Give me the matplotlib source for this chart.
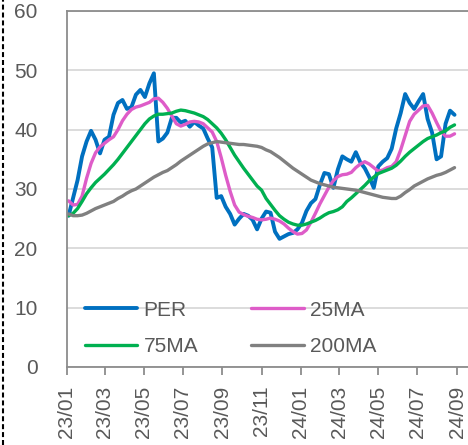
import pandas as pd
import matplotlib
matplotlib.use('Agg')
from matplotlib import pyplot as plt
import matplotlib.dates as mdates
from matplotlib.lines import Line2D

# 周度数据：2023/01/04 起每7天一个点
dates = pd.date_range('2023-01-04', periods=87, freq='7D')

per = [25.5, 28.5, 31.5, 35.5, 38.0, 39.8, 38.3, 36.0, 38.3, 38.8,
       42.5, 44.5, 45.0, 43.5, 43.8, 45.9, 46.7, 45.5, 47.8, 49.5,
       38.0, 38.5, 39.5, 42.0, 42.0, 41.2, 41.5, 40.5, 41.3, 40.7,
       40.2, 38.5, 37.0, 28.5, 28.8, 27.0, 25.8, 24.0, 25.0, 25.8,
       25.5, 24.8, 23.2, 25.0, 26.2, 26.0, 22.8, 21.6, 22.0, 22.4,
       22.6, 23.2, 24.3, 26.3, 27.6, 28.3, 30.7, 32.7, 32.5, 30.2,
       33.3, 35.5, 35.0, 34.6, 36.2, 34.5, 33.5, 32.0, 30.2, 33.8,
       34.6, 35.2, 36.8, 40.2, 42.8, 46.0, 44.5, 43.5, 44.8, 46.0,
       41.8, 39.5, 35.0, 35.5, 41.0, 43.2, 42.5]

ma25 = [28.0, 27.3, 27.4, 28.8, 31.8, 34.3, 36.1, 37.1, 37.7, 38.3,
        38.8, 40.0, 41.5, 42.6, 43.4, 43.8, 44.0, 44.3, 44.6, 45.2,
        45.3, 44.6, 43.6, 42.3, 41.0, 40.6, 40.9, 41.3, 41.4, 41.3,
        41.0, 40.3, 39.6, 38.0, 35.3, 32.3, 29.6, 27.3, 26.1, 25.7,
        25.4, 25.2, 24.9, 24.8, 24.9, 25.1, 24.9, 24.6, 24.1, 23.4,
        22.8, 22.4, 22.5, 23.1, 24.4, 25.9, 27.5, 28.9, 30.3, 31.4,
        32.1, 32.4, 32.5, 32.8, 33.6, 34.2, 34.6, 34.2, 33.6, 33.0,
        33.2, 33.6, 33.8, 34.6, 36.6, 39.0, 41.4, 42.6, 43.3, 44.0,
        44.1, 42.8, 41.2, 39.7, 38.9, 38.9, 39.3]

ma75 = [25.5, 25.9, 26.7, 27.9, 29.2, 30.2, 31.1, 31.8, 32.5, 33.3,
        34.1, 35.0, 36.0, 37.0, 38.0, 39.0, 40.0, 41.0, 41.8, 42.3,
        42.6, 42.6, 42.7, 42.8, 43.1, 43.3, 43.2, 43.0, 42.8, 42.5,
        42.2, 41.7, 41.0, 40.3, 39.4, 38.3, 37.0, 35.7, 34.6, 33.5,
        32.5, 31.5, 30.5, 29.8, 28.4, 27.4, 26.4, 25.5, 24.9, 24.4,
        24.1, 23.9, 23.9, 24.1, 24.4, 24.7, 25.1, 25.6, 26.0, 26.2,
        26.5, 27.0, 27.9, 28.5, 29.2, 29.9, 30.6, 31.4, 32.0, 32.6,
        32.9, 33.2, 33.5, 34.0, 34.7, 35.5, 36.2, 36.8, 37.4, 38.0,
        38.5, 38.8, 39.1, 39.5, 39.8, 40.4, 40.8]

ma200 = [25.8, 25.5, 25.5, 25.6, 25.9, 26.3, 26.7, 27.0, 27.3, 27.6,
         27.9, 28.4, 28.8, 29.3, 29.7, 30.0, 30.5, 31.0, 31.5, 32.0,
         32.4, 32.8, 33.1, 33.6, 34.1, 34.7, 35.2, 35.7, 36.2, 36.7,
         37.2, 37.6, 37.8, 38.0, 37.9, 37.8, 37.7, 37.6, 37.5, 37.5,
         37.4, 37.3, 37.2, 37.0, 36.6, 36.3, 35.8, 35.3, 34.7, 34.1,
         33.5, 33.0, 32.5, 32.0, 31.5, 31.2, 30.9, 30.7, 30.5, 30.3,
         30.2, 30.1, 30.0, 29.9, 29.8, 29.6, 29.4, 29.2, 29.0, 28.8,
         28.6, 28.5, 28.4, 28.4, 28.8, 29.4, 29.9, 30.5, 30.9, 31.3,
         31.7, 32.0, 32.3, 32.5, 32.8, 33.2, 33.6]

series_names = ['PER', '25MA', '75MA', '200MA']
colors = ['#0070c0', '#de5cc8', '#00b050', '#808080']
widths = [2.8, 2.4, 2.4, 2.4]

plt.rcParams['font.family'] = ['Liberation Sans', 'DejaVu Sans']
text_color = '#595959'

fig = plt.figure(figsize=(4.68, 4.45), dpi=100)
ax = fig.add_axes([0.1425, 0.1753, 0.8575, 0.80])

lines = []
for name, vals, c, lw in zip(series_names, [per, ma25, ma75, ma200], colors, widths):
    ln, = ax.plot(dates, vals, color=c, lw=lw, label=name, solid_capstyle='round')
    lines.append(ln)

ax.set_ylim(0, 60)
ax.set_yticks(range(0, 61, 10))
ax.set_xlim(pd.Timestamp('2023-01-01'), pd.Timestamp('2024-09-18'))
ax.xaxis.set_major_locator(mdates.MonthLocator(bymonth=[1, 3, 5, 7, 9, 11]))
ax.xaxis.set_major_formatter(mdates.DateFormatter('%y/%m'))

# 网格线和坐标轴
ax.yaxis.grid(True, color='#d9d9d9', lw=1.3)
ax.set_axisbelow(True)
ax.spines['right'].set_visible(False)
for s in ['left', 'bottom', 'top']:
    ax.spines[s].set_color('#8c8c8c')
    ax.spines[s].set_linewidth(1.3)

ax.tick_params(axis='y', length=0, pad=21, labelsize=15, labelcolor=text_color)
ax.tick_params(axis='x', length=5.5, width=1.3, color='#8c8c8c', pad=8,
               labelsize=15, labelcolor=text_color, labelrotation=90)

# 图例：按行排列 PER / 25MA，75MA / 200MA
order = [0, 2, 1, 3]
ax.legend([lines[i] for i in order], [series_names[i] for i in order],
          loc='lower left', bbox_to_anchor=(0.005, -0.017), ncol=2, frameon=False,
          fontsize=15, handlelength=2.5, handletextpad=0.3, columnspacing=2.55,
          labelspacing=0.85, borderpad=0.3, labelcolor=text_color)

# 左侧虚线边框
fig.add_artist(Line2D([3 / 468, 3 / 468], [0, 1], transform=fig.transFigure,
                      color='black', lw=1.5, linestyle=(0, (2.4, 1.4))))

plt.savefig('out.png', dpi=100)
